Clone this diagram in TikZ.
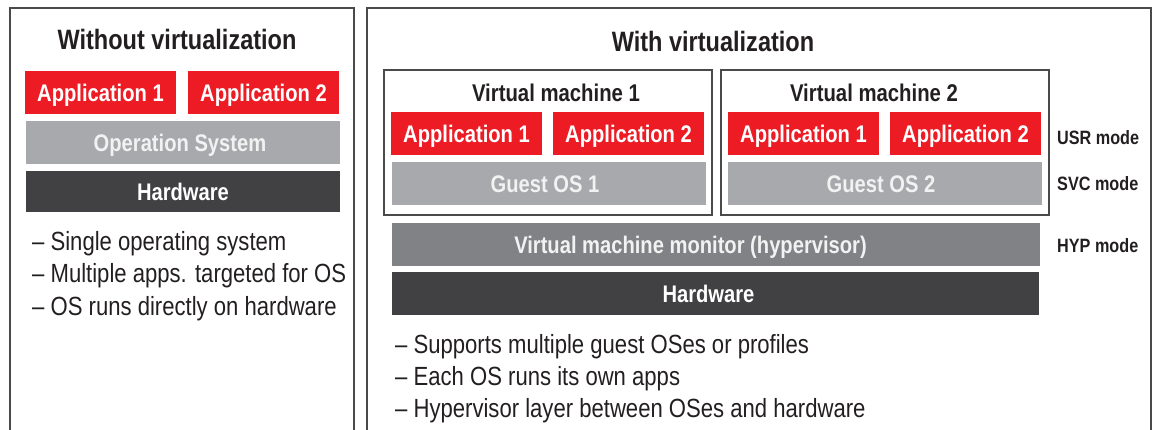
\documentclass[tikz,border=0pt]{standalone}
\usepackage{fontspec}
\setmainfont[FakeStretch=0.84]{Liberation Sans}
\definecolor{appred}{HTML}{ED1C24}
\definecolor{osgray}{HTML}{A7A9AC}
\definecolor{hypgray}{HTML}{808285}
\definecolor{hwdark}{HTML}{414042}
\definecolor{ink}{HTML}{231F20}
\definecolor{frame}{HTML}{4A4A4A}
\definecolor{ostext}{HTML}{F2F2F2}
\tikzset{
  blk/.style={inner sep=0pt, text height=17.2pt, text depth=0pt, font=\fontsize{24}{26}\selectfont\bfseries, align=center},
  app/.style={blk, fill=appred, text=white, minimum width=151pt, minimum height=43pt},
  osbox/.style={blk, fill=osgray, text=ostext, minimum width=314pt, minimum height=43pt},
  hypbox/.style={blk, fill=hypgray, text=ostext, minimum width=648pt, minimum height=43pt},
  hwbox/.style={blk, fill=hwdark, text=white, minimum height=43pt},
  ttl/.style={inner sep=0pt, text height=20pt, text depth=0pt, text=ink, font=\fontsize{28}{30}\selectfont\bfseries},
  vmttl/.style={inner sep=0pt, text height=17.3pt, text depth=0pt, text=ink, font=\fontsize{24.2}{26}\selectfont\bfseries},
  vmbox/.style={draw=frame, line width=1.3pt, fill=none, inner sep=0pt, minimum width=328pt, minimum height=145pt},
  bul/.style={inner sep=0pt, anchor=base west, text=ink, font=\fontsize{26.3}{28}\selectfont},
  mode/.style={inner sep=0pt, anchor=west, text height=13.8pt, text depth=0pt, text=ink, font=\fontsize{19.3}{21}\selectfont\bfseries},
  outer/.style={draw=frame, line width=1.5pt}
}
\begin{document}
\begin{tikzpicture}[x=1pt,y=-1pt]
\useasboundingbox (0,0) rectangle (1153,430);
% outer frames
\draw[outer] (10,434) -- (10,8) -- (354,8) -- (354,434);
\draw[outer] (367,434) -- (367,8) -- (1151,8) -- (1151,434);

% left panel
\node[ttl] (ltitle) at (177,40) {Without virtualization};
\node[app] (lapp1) at (100.5,92.5) {Application 1};
\node[app] (lapp2) at (263.5,92.5) {Application 2};
\node[osbox] (los) at (183,142.5) {Operation System\hspace*{6pt}};
\node[hwbox, minimum width=314pt, minimum height=41pt] (lhw) at (183,191.5) {Hardware};
\node[bul] (lb1) at (32,251) {– Single operating system};
\node[bul] (lb2) at (32,283) {– Multiple apps. targeted for OS};
\node[bul] (lb3) at (32,315) {– OS runs directly on hardware};

% right panel
\node[ttl] (rtitle) at (713,42) {With virtualization};
\node[vmbox] (vm1) at (548,142.5) {};
\node[vmbox] (vm2) at (885,142.5) {};
\node[vmttl] (vm1t) at (556,93) {Virtual machine 1};
\node[vmttl] (vm2t) at (874,93) {Virtual machine 2};
\node[app] (r1a1) at (466.5,133.5) {Application 1};
\node[app] (r1a2) at (628.5,133.5) {Application 2};
\node[osbox] (gos1) at (549,183.5) {Guest OS 1\hspace*{8pt}};
\node[app] (r2a1) at (803.5,133.5) {Application 1};
\node[app] (r2a2) at (965.5,133.5) {Application 2};
\node[osbox] (gos2) at (885,183.5) {Guest OS 2\hspace*{8pt}};
\node[hypbox] (hyp) at (715.5,244.5) {Virtual machine monitor (hypervisor)\hspace*{50pt}};
\node[hwbox, minimum width=647pt] (rhw) at (715.5,293.5) {Hardware\hspace*{14pt}};
\node[mode] (usr) at (1057,137.5) {USR mode};
\node[mode] (svc) at (1057,183.5) {SVC mode};
\node[mode] (hypm) at (1057,245.5) {HYP mode};
\node[bul] (rb1) at (395,353) {– Supports multiple guest OSes or profiles};
\node[bul] (rb2) at (395,385) {– Each OS runs its own apps};
\node[bul] (rb3) at (395,417) {– Hypervisor layer between OSes and hardware};
\end{tikzpicture}
\end{document}
